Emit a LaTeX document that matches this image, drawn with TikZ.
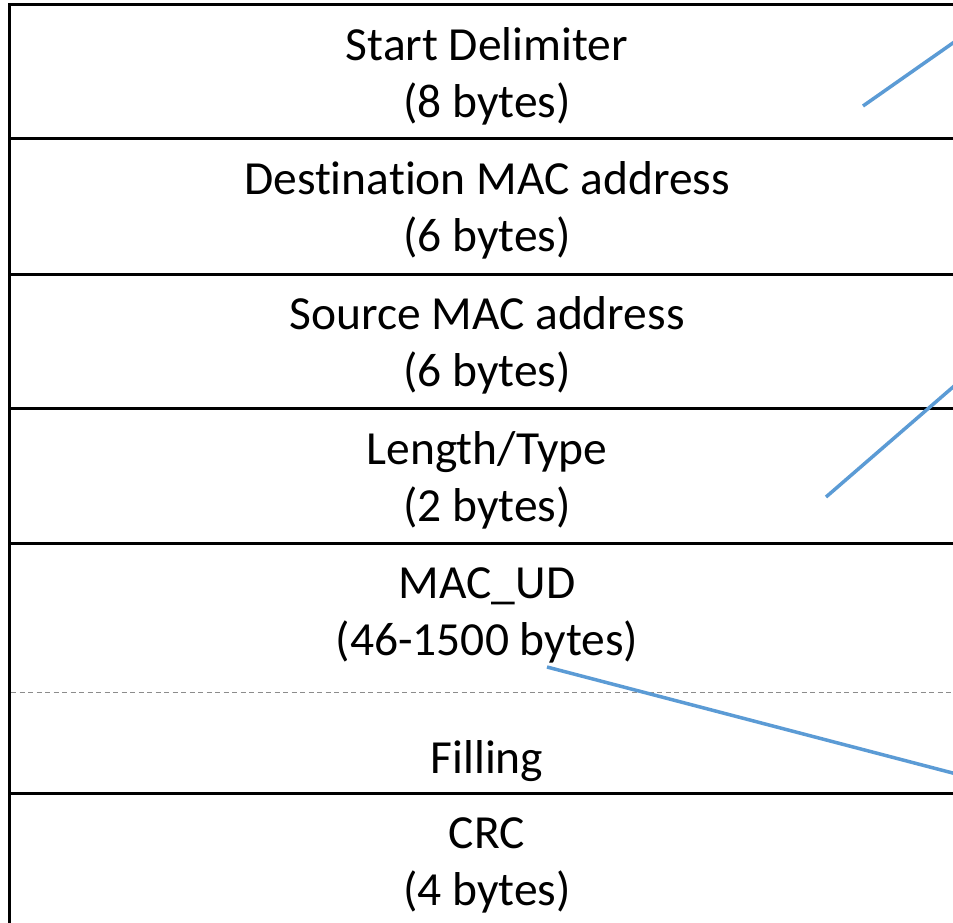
\documentclass[tikz,border=0pt]{standalone}
\usepackage{fontspec}
\setmainfont{Carlito}[Ligatures=NoCommon]
\definecolor{calloutblue}{HTML}{5B9BD5}
\definecolor{splitgray}{HTML}{8C8C8C}
\begin{document}
\begin{tikzpicture}[x=1pt,y=-1pt,
  rule/.style={line width=3pt, black},
  split/.style={line width=1pt, splitgray, dash pattern=on 5pt off 3.5pt},
  fieldtext/.style={anchor=base, inner sep=0pt, font=\fontsize{47.5}{57}\selectfont},
  callout/.style={line width=3.5pt, calloutblue}]
\clip (0,0) rectangle (953,923);
\fill[white] (0,0) rectangle (953,923);

% frame of the frame format table
\draw[rule] (9.5,940) -- (9.5,4.5) -- (980,4.5);
\foreach \y in {139,274,408,543,793}
  \draw[rule] (9.5,\y) -- (980,\y);
\draw[split] (11,692) -- (980,692);

% field labels
\node[fieldtext] (sd1)  at (487,61)    {Start Delimiter};
\node[fieldtext] (sd2)  at (487,118)   {(8 bytes)};
\node[fieldtext] (dst1) at (487,194)   {Destination MAC address};
\node[fieldtext] (dst2) at (487,251)   {(6 bytes)};
\node[fieldtext] (src1) at (487,329)   {Source MAC address};
\node[fieldtext] (src2) at (487,386)   {(6 bytes)};
\node[fieldtext] (len1) at (487,464)   {Length/Type};
\node[fieldtext] (len2) at (487,521)   {(2 bytes)};
\node[fieldtext] (ud1)  at (487,598)   {MAC\_UD};
\node[fieldtext] (ud2)  at (487,655)   {(46-1500 bytes)};
\node[fieldtext] (fil)  at (487,773)   {Filling};
\node[fieldtext] (crc1) at (487,848)   {CRC};
\node[fieldtext] (crc2) at (487,905)   {(4 bytes)};

% callout leaders running off to the right
\coordinate (c1a) at (863,106);
\coordinate (c1b) at (981,23.3);
\coordinate (c2a) at (826,497);
\coordinate (c2b) at (981,362.8);
\coordinate (c3a) at (547,667);
\coordinate (c3b) at (981,780.4);
\draw[callout] (c1a) -- (c1b);
\draw[callout] (c2a) -- (c2b);
\draw[callout] (c3a) -- (c3b);
\end{tikzpicture}
\end{document}
